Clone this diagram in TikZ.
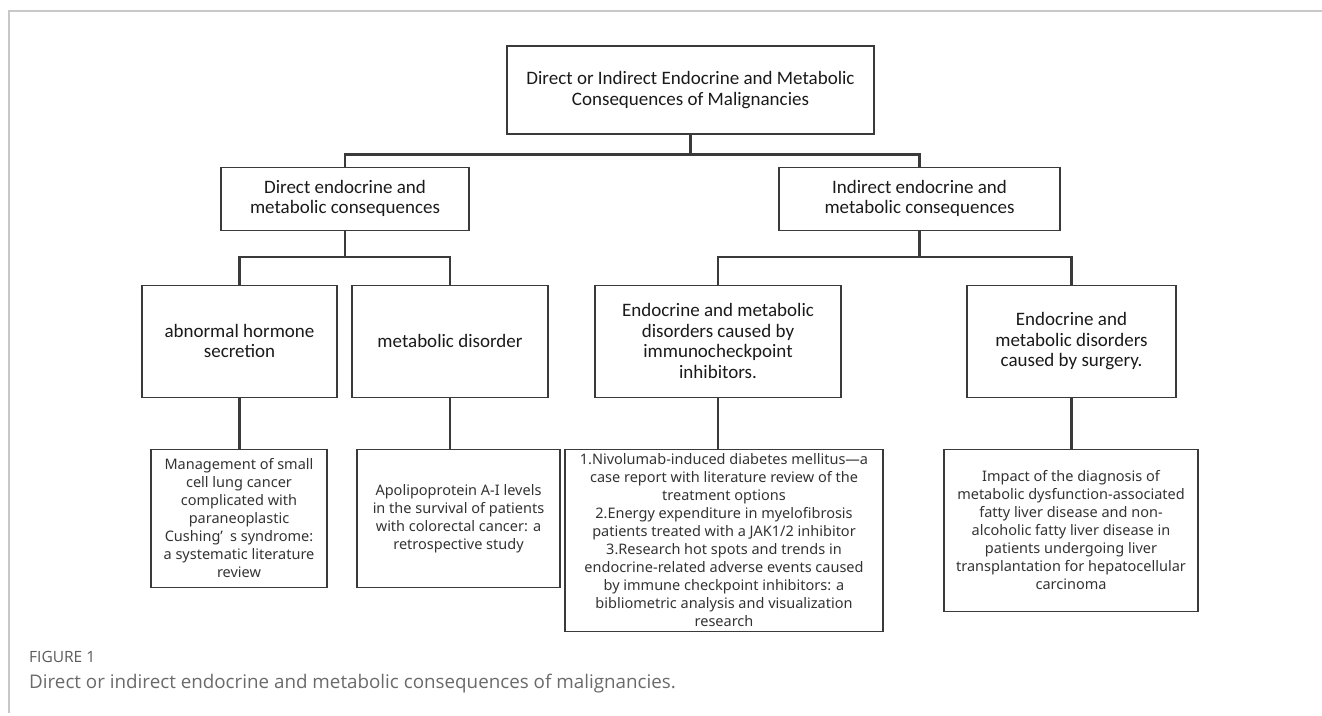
\documentclass[tikz,border=0pt]{standalone}
\usepackage{fontspec}
\setmainfont{Carlito}
\newfontfamily\leaffont{Noto Sans}
\newfontfamily\capfont{Open Sans}
\usetikzlibrary{positioning}
\definecolor{boxline}{HTML}{3A3A3A}
\definecolor{textdark}{HTML}{1A1A1A}
\definecolor{framegray}{HTML}{C8C8C8}
\definecolor{capgray}{HTML}{6A6A6A}
\tikzstyle{box} = [rectangle, draw=boxline, line width=1.1pt, align=center,
inner sep=2pt, text=textdark]
\tikzstyle{head} = [box, font=\fontsize{19}{20.5}\selectfont]
\tikzstyle{leaf} = [box, font=\leaffont\fontsize{14.5}{18}\selectfont, text=black!80]
\tikzstyle{wire} = [draw=boxline, line width=2.2pt]
\tikzstyle{caption} = [anchor=west, inner sep=0pt, font=\capfont]
\newcommand{\treeedge}[3]{ %
  % Connect parent #1 to all children #3, bending #2 below the parent.
  \foreach \y in {#3} { %
    \draw[wire] (#1.south) -- ++(0,-#2) -| (\y.north) ;%
  } ;
}

\begin{document}
\begin{tikzpicture}[x=1pt,y=1pt]
				\useasboundingbox (0,0) rectangle (1322,-715);
				\draw[framegray, line width=1.4pt] (1322,-11) -- (9,-11) -- (9,-713);

				\node[head, minimum width=367pt, minimum height=88pt] (root) at (690.5,-90)
					{Direct or Indirect Endocrine and Metabolic\\Consequences of Malignancies};

				\node[head, minimum width=248pt, minimum height=63pt, below=32pt of root, xshift=-345.5pt] (direct)
					{Direct endocrine and\\metabolic consequences};
				\node[head, minimum width=281pt, minimum height=63pt, below=32pt of root, xshift=229pt] (indirect)
					{Indirect endocrine and\\metabolic consequences};

				\node[head, minimum width=195pt, minimum height=112pt, below=54pt of direct, xshift=-105.5pt] (abnormal)
					{abnormal hormone\\secretion};
				\node[head, minimum width=196pt, minimum height=112pt, below=54pt of direct, xshift=105pt] (metabolic)
					{metabolic disorder};
				\node[head, minimum width=246pt, minimum height=112pt, below=54pt of indirect, xshift=-201.5pt] (immuno)
					{Endocrine and metabolic\\disorders caused by\\immunocheckpoint\\inhibitors.};
				\node[head, minimum width=209pt, minimum height=112pt, below=54pt of indirect, xshift=152pt] (surgery)
					{Endocrine and\\metabolic disorders\\caused by surgery.};

				\node[leaf, minimum width=176pt, minimum height=138pt, below=51pt of abnormal, xshift=-0.5pt] (mgmt)
					{Management of small\\cell lung cancer\\complicated with\\paraneoplastic\\Cushing’\enspace s syndrome:\\a systematic literature\\review};
				\node[leaf, minimum width=203pt, minimum height=138pt, below=51pt of metabolic, xshift=8.5pt] (apolipo)
					{Apolipoprotein A-I levels\\in the survival of patients\\with colorectal cancer: a\\retrospective study};
				\node[leaf, minimum width=318pt, minimum height=182pt, below=51pt of immuno, xshift=6pt] (nivo)
					{1.Nivolumab-induced diabetes mellitus—a\\case report with literature review of the\\treatment options\\2.Energy expenditure in myelofibrosis\\patients treated with a JAK1/2 inhibitor\\3.Research hot spots and trends in\\endocrine-related adverse events caused\\by immune checkpoint inhibitors: a\\bibliometric analysis and visualization\\research};
				\node[leaf, minimum width=254pt, minimum height=162pt, below=51pt of surgery, xshift=-0.5pt] (impact)
					{Impact of the diagnosis of\\metabolic dysfunction-associated\\fatty liver disease and non-\\alcoholic fatty liver disease in\\patients undergoing liver\\transplantation for hepatocellular\\carcinoma};

				\treeedge{root}{20}{direct,indirect}
				\treeedge{direct}{26}{abnormal,metabolic}
				\treeedge{indirect}{26}{immuno,surgery}
				\foreach \a/\b in {abnormal/mgmt, metabolic/apolipo, immuno/nivo, surgery/impact}
					\draw[wire] (\a.south) -- (\a.south |- \b.north);

				\node[caption, text=capgray!85!black, font=\capfont\fontsize{15.5}{18}\selectfont] (figno) at (29,-657) {FIGURE 1};
				\node[caption, text=capgray, font=\capfont\fontsize{18.8}{22}\selectfont] (figtext) at (29,-684)
					{Direct or indirect endocrine and metabolic consequences of malignancies.};
\end{tikzpicture}
\end{document}
